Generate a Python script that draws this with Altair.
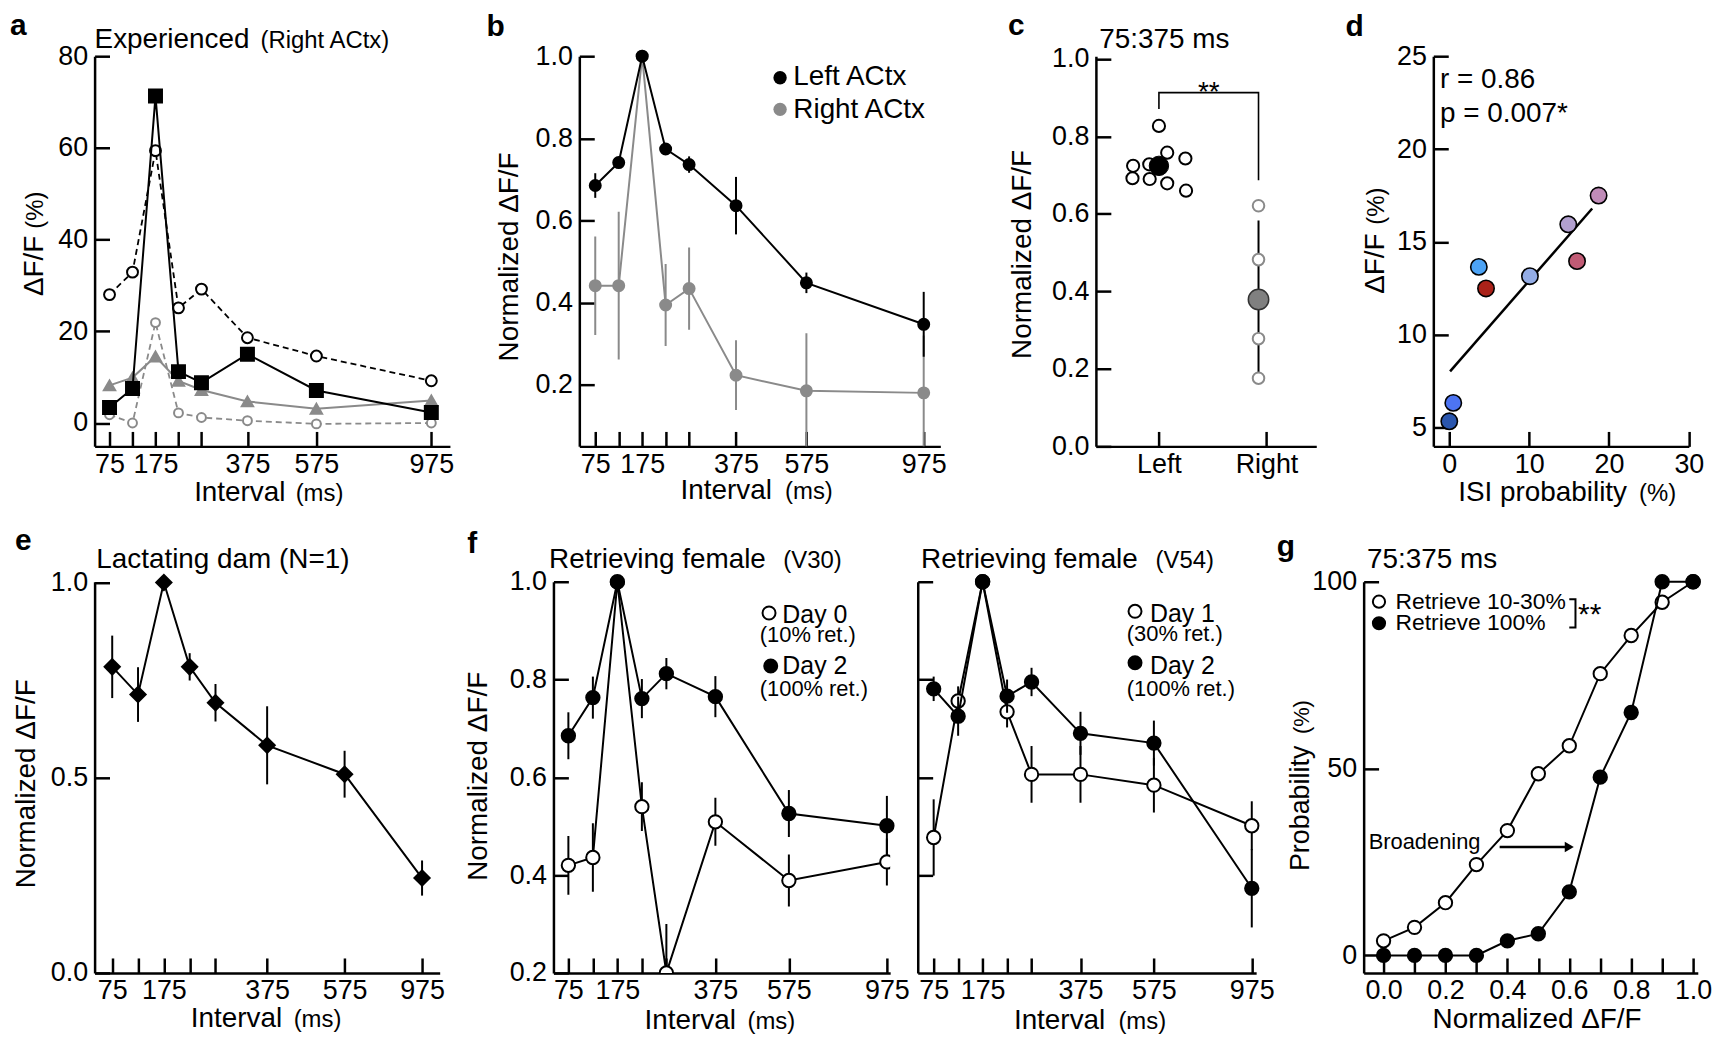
import altair as alt
import pandas as pd

FONT = "Liberation Sans"
GREY = "#8a8a8a"

# ---------------- data ----------------
intervals = [75, 125, 175, 225, 275, 375, 575, 975]
labeled_intervals = [75, 175, 375, 575, 975]

# panel a : Experienced (Right ACtx), dF/F (%)
a_sq_black = [3.4, 7.5, 71.3, 11.2, 8.8, 15.0, 7.1, 2.3]
a_open_black = [28.0, 32.9, 59.4, 25.1, 29.2, 18.6, 14.6, 9.2]
a_tri_grey = [8.2, 9.9, 14.5, 9.2, 7.2, 4.7, 3.1, 4.9]
a_open_grey = [1.8, 0.0, 21.9, 2.2, 1.2, 0.5, -0.2, 0.0]

# panel b : normalized dF/F, left vs right ACtx
b_left = [0.685, 0.741, 1.0, 0.774, 0.736, 0.636, 0.448, 0.347]
b_left_err = [0.03, 0.012, 0.0, 0.01, 0.02, 0.07, 0.025, 0.079]
b_right = [0.441, 0.441, 1.0, 0.394, 0.434, 0.223, 0.185, 0.18]
b_right_err = [0.12, 0.18, 0.0, 0.1, 0.1, 0.085, 0.14, 0.14]

# panel c : 75:375 ms
c_left_x = [0.0, -0.24, -0.09, 0.077, 0.246, -0.246, -0.086, 0.077, 0.252]
c_left_y = [0.827, 0.724, 0.728, 0.758, 0.743, 0.692, 0.690, 0.679, 0.660]
c_left_mean = [0.724]
c_right_x = [0.926, 0.926, 0.926, 0.926]
c_right_y = [0.621, 0.482, 0.278, 0.176]
c_right_mean = [0.379]
c_right_err = [0.204]
c_bracket_x = [0.0, 0.0, 0.926, 0.926]
c_bracket_y = [0.871, 0.913, 0.913, 0.687]

# panel d : ISI probability vs dF/F
d_isi = [0.0, 0.5, 3.7, 4.6, 10.1, 14.9, 16.0, 18.7]
d_dff = [5.35, 6.34, 13.66, 12.5, 13.16, 15.95, 13.97, 17.5]
d_colors = ["#2a56ae", "#4d74f2", "#4ca3f5", "#aa2219", "#94ade6", "#b2a0cf", "#c15b75", "#c08cb8"]
d_fit_x = [0.1, 17.9]
d_fit_y = [8.04, 16.8]

# panel e : lactating dam
e_mean = [0.784, 0.713, 1.0, 0.784, 0.692, 0.583, 0.509, 0.243]
e_err = [0.08, 0.07, 0.0, 0.035, 0.048, 0.1, 0.06, 0.045]

# panel f (V30)
f1_day2 = [0.685, 0.763, 1.0, 0.761, 0.812, 0.765, 0.526, 0.501]
f1_day2_err = [0.048, 0.043, 0.0, 0.04, 0.032, 0.042, 0.048, 0.061]
f1_day0 = [0.42, 0.436, 1.0, 0.540, 0.2, 0.509, 0.389, 0.427]
f1_day0_err = [0.06, 0.07, 0.0, 0.05, 0.1, 0.049, 0.053, 0.048]

# panel f (V54)
f2_day2 = [0.781, 0.725, 1.0, 0.766, 0.795, 0.69, 0.670, 0.373]
f2_day2_err = [0.025, 0.04, 0.0, 0.034, 0.029, 0.044, 0.046, 0.08]
f2_day1 = [0.477, 0.756, 1.0, 0.734, 0.606, 0.606, 0.584, 0.501]
f2_day1_err = [0.078, 0.03, 0.0, 0.032, 0.058, 0.058, 0.056, 0.05]

# panel g : cumulative probability
g_thresholds = [0.0, 0.1, 0.2, 0.3, 0.4, 0.5, 0.6, 0.7, 0.8, 0.9, 1.0]
g_retrieve_low = [3.9, 7.5, 14.1, 24.3, 33.4, 48.6, 56.1, 75.4, 85.6, 94.5, 100.0]
g_retrieve_100 = [0.0, 0.0, 0.0, 0.0, 3.9, 5.8, 17.0, 47.7, 65.0, 100.0, 100.0]
g_bracket_x = [0.600, 0.620, 0.620, 0.600]
g_bracket_y = [95.3, 95.3, 87.75, 87.75]
g_arrow_x = [0.375, 0.60]
g_arrow_y = [29.0, 29.0]

# ---------------- helpers ----------------
ONE = pd.DataFrame({"k": [0]})
TICK = {"expr": "-15"}


def txt(s, x, y, size=28, align="left", angle=0, weight="normal", color="black"):
    return alt.Chart(ONE).mark_text(
        text=s, font=FONT, fontSize=size, align=align, baseline="alphabetic",
        angle=angle, fontWeight=weight, color=color
    ).encode(x=alt.value(x), y=alt.value(y))


def dot(x, y, size, fill, stroke="black", sw=2):
    return alt.Chart(ONE).mark_point(
        shape="circle", filled=True, fill=fill, stroke=stroke, strokeWidth=sw,
        size=size, opacity=1
    ).encode(x=alt.value(x), y=alt.value(y))


def guide(x, y1, y2):
    # invisible vertical rule that fixes the layout bounds of a row
    return alt.Chart(ONE).mark_rule(strokeWidth=1, strokeOpacity=0, opacity=0).encode(
        x=alt.value(x), y=alt.value(y1), y2=alt.value(y2))


def axis(values, labels=True, fmt=None, expr=None, pad=22):
    kw = dict(values=values, title=None, grid=False, domain=True, domainColor="black",
              domainWidth=2.5, ticks=True, tickColor="black", tickWidth=2.5, tickSize=TICK,
              labelPadding=pad, labels=labels, labelFont=FONT, labelFontSize=27,
              labelColor="black", labelOverlap=False, labelFlush=False)
    if fmt:
        kw["format"] = fmt
    if expr:
        kw["labelExpr"] = expr
    return alt.Axis(**kw)


def interval_scale(width, first_px, last_px, n_last):
    u = (last_px - first_px) / n_last
    return alt.Scale(domain=[50, 75, 375, 575, 975, 1000],
                     range=[0, first_px, first_px + 6 * u, first_px + 9 * u, last_px, width],
                     nice=False, zero=False)


INT_EXPR = "indexof([75,175,375,575,975], datum.value) >= 0 ? datum.label : ''"


def series(vals, errs=None):
    d = pd.DataFrame({"interval": intervals, "v": vals})
    if errs is not None:
        d["lo"] = [v - e for v, e in zip(vals, errs)]
        d["hi"] = [v + e for v, e in zip(vals, errs)]
    return d


def trace(df, X, Y, line_color, shape, size, fill, stroke, dash=None, lw=2, psw=2, clip=False):
    lk = dict(color=line_color, strokeWidth=lw, clip=clip)
    if dash:
        lk["strokeDash"] = dash
    line = alt.Chart(df).mark_line(**lk).encode(x=X, y=Y)
    pts = alt.Chart(df).mark_point(shape=shape, size=size, filled=True, fill=fill, stroke=stroke,
                                   strokeWidth=psw, opacity=1, clip=clip).encode(x=X, y=Y)
    return [line, pts]


def errbars(df, X, yscale, yaxis, color="black", w=2, clip=False):
    return alt.Chart(df).mark_rule(color=color, strokeWidth=w, clip=clip).encode(
        x=X, y=alt.Y("lo:Q", scale=yscale, axis=yaxis), y2="hi:Q")


def spacer(w, h):
    return alt.Chart(ONE).mark_point(opacity=0).encode(
        x=alt.value(0), y=alt.value(0)).properties(width=w, height=h)


H1 = 392
H2 = 393

# ---------------- panel a ----------------
Wa = 357
xa = alt.X("interval:Q", scale=interval_scale(Wa, 15, 338.3, 14), axis=axis(intervals, expr=INT_EXPR, pad=20))
ysa = alt.Scale(domain=[-5.1, 80], nice=False, zero=False)
yaxa = axis([0, 20, 40, 60, 80])
ya = alt.Y("v:Q", scale=ysa, axis=yaxa)
pa = alt.layer(
    guide(-86.5, -44.8, 460),
    *trace(series(a_open_grey), xa, ya, GREY, "circle", 80, "white", GREY, dash=[6, 4], lw=1.8),
    *trace(series(a_tri_grey), xa, ya, GREY, "triangle-up", 130, GREY, GREY, lw=2),
    *trace(series(a_open_black), xa, ya, "black", "circle", 120, "white", "black", dash=[6, 4], lw=1.8),
    *trace(series(a_sq_black), xa, ya, "black", "square", 170, "black", "black", lw=2),
    txt("a", -85, -21.6, 30, weight="bold"),
    txt("Experienced", 0, -8.3, 28),
    txt("(Right ACtx)", 166.7, -8.3, 24),
    txt("\u0394F/F", -52, 210.7, 28, align="center", angle=270),
    txt("(%)", -52, 154.7, 24, align="center", angle=270),
    txt("Interval", 100, 446.7, 28),
    txt("(ms)", 202, 446.7, 24),
).properties(width=Wa, height=H1)

# ---------------- panel b ----------------
Wb = 362.7
xb = alt.X("interval:Q", scale=interval_scale(Wb, 16, 346, 14), axis=axis(intervals, expr=INT_EXPR, pad=20))
ysb = alt.Scale(domain=[0.0497, 1.0], nice=False, zero=False)
yaxb = axis([0.2, 0.4, 0.6, 0.8, 1.0], fmt=".1f")
yb = alt.Y("v:Q", scale=ysb, axis=yaxb)
dbr = series(b_right, b_right_err)
dbl = series(b_left, b_left_err)
pb = alt.layer(
    errbars(dbr, xb, ysb, yaxb, color=GREY, clip=True),
    *trace(dbr, xb, yb, GREY, "circle", 170, GREY, GREY, psw=0),
    errbars(dbl, xb, ysb, yaxb, color="black"),
    *trace(dbl, xb, yb, "black", "circle", 170, "black", "black", psw=0),
    dot(201.7, 21.7, 180, "black", stroke="black", sw=0),
    dot(201.7, 53.4, 180, GREY, stroke=GREY, sw=0),
    txt("Left ACtx", 215, 29.4, 28),
    txt("Right ACtx", 215, 61.7, 28),
    txt("b", -93.3, -20, 30, weight="bold"),
    txt("Normalized \u0394F/F", -61.7, 201.7, 28, align="center", angle=270),
    txt("Interval", 101.7, 444.7, 28),
    txt("(ms)", 206.7, 444.7, 24),
).properties(width=Wb, height=H1)

# ---------------- panel c ----------------
Wc = 221.4
xsc = alt.Scale(domain=[-0.586, 1.463], nice=False, zero=False)
xaxc = axis([0, 1], expr="datum.value == 0 ? 'Left' : 'Right'", pad=20)
ysc = alt.Scale(domain=[0, 1.007], nice=False, zero=False)
yaxc = axis([0.0, 0.2, 0.4, 0.6, 0.8, 1.0], fmt=".1f")
xc = alt.X("x:Q", scale=xsc, axis=xaxc)
yc = alt.Y("y:Q", scale=ysc, axis=yaxc)
dcl = pd.DataFrame({"x": c_left_x, "y": c_left_y})
dclm = pd.DataFrame({"x": [0.0], "y": c_left_mean})
dcr = pd.DataFrame({"x": c_right_x, "y": c_right_y})
dcrm = pd.DataFrame({"x": [c_right_x[0]], "y": c_right_mean,
                     "lo": [c_right_mean[0] - c_right_err[0]], "hi": [c_right_mean[0] + c_right_err[0]]})
dcb = pd.DataFrame({"x": c_bracket_x, "y": c_bracket_y, "o": [0, 1, 2, 3]})
pc = alt.layer(
    alt.Chart(dcb).mark_line(color="black", strokeWidth=1.6).encode(x=xc, y=yc, order="o:Q"),
    alt.Chart(dcrm).mark_rule(color="black", strokeWidth=2).encode(
        x=xc, y=alt.Y("lo:Q", scale=ysc, axis=yaxc), y2="hi:Q"),
    alt.Chart(dcr).mark_point(shape="circle", size=135, filled=True, fill="white", stroke=GREY,
                              strokeWidth=2, opacity=1).encode(x=xc, y=yc),
    alt.Chart(dcrm).mark_point(shape="circle", size=420, filled=True, fill="#808080", stroke="#333333",
                               strokeWidth=1.5, opacity=1).encode(x=xc, y=yc),
    alt.Chart(dcl).mark_point(shape="circle", size=150, filled=True, fill="white", stroke="black",
                              strokeWidth=2, opacity=1).encode(x=xc, y=yc),
    alt.Chart(dclm).mark_point(shape="circle", size=380, filled=True, fill="black", stroke="black",
                               strokeWidth=1, opacity=1).encode(x=xc, y=yc),
    txt("c", -88.3, -21.6, 30, weight="bold"),
    txt("75:375 ms", 3.4, -8.3, 28),
    txt("**", 113.4, 44.7, 28, align="center"),
    txt("Normalized \u0394F/F", -65, 199.2, 28, align="center", angle=270),
).properties(width=Wc, height=H1)

# ---------------- panel d ----------------
Wd = 256.7
xsd = alt.Scale(domain=[-2, 30], nice=False, zero=False)
ysd = alt.Scale(domain=[4.0, 25], nice=False, zero=False)
xd = alt.X("isi:Q", scale=xsd, axis=axis([0, 10, 20, 30], pad=20))
yd = alt.Y("dff:Q", scale=ysd, axis=axis([5, 10, 15, 20, 25]))
dd = pd.DataFrame({"isi": d_isi, "dff": d_dff, "col": d_colors})
dfit = pd.DataFrame({"isi": d_fit_x, "dff": d_fit_y})
pd_ = alt.layer(
    alt.Chart(dfit).mark_line(color="black", strokeWidth=2.5).encode(x=xd, y=yd),
    alt.Chart(dd).mark_point(shape="circle", size=270, filled=True, stroke="black", strokeWidth=1.6,
                             opacity=1).encode(x=xd, y=yd, fill=alt.Fill("col:N", scale=None)),
    txt("d", -88.3, -20, 30, weight="bold"),
    txt("r = 0.86", 6.7, 31.7, 28),
    txt("p = 0.007*", 6.7, 65.7, 28),
    txt("\u0394F/F", -50, 208.4, 28, align="center", angle=270),
    txt("(%)", -50, 150.7, 24, align="center", angle=270),
    txt("ISI probability", 25, 446.7, 28),
    txt("(%)", 206.7, 446.7, 24),
).properties(width=Wd, height=H1)

# ---------------- panel e ----------------
We = 346.7
xe = alt.X("interval:Q", scale=interval_scale(We, 17.7, 329, 12), axis=axis(intervals, expr=INT_EXPR, pad=20))
yse = alt.Scale(domain=[0, 1.002], nice=False, zero=False)
yaxe = axis([0.0, 0.5, 1.0], fmt=".1f")
ye = alt.Y("v:Q", scale=yse, axis=yaxe)
de = series(e_mean, e_err)
pe = alt.layer(
    guide(-84.8, -60, 460),
    errbars(de, xe, yse, yaxe),
    *trace(de, xe, ye, "black", "diamond", 330, "black", "black", psw=0),
    txt("e", -80, -32, 30, weight="bold"),
    txt("Lactating dam (N=1)", 1.7, -13.6, 28),
    txt("Normalized \u0394F/F", -60, 203, 28, align="center", angle=270),
    txt("Interval", 96.7, 447.7, 28),
    txt("(ms)", 200, 447.7, 24),
).properties(width=We, height=H2)

# ---------------- panel f (V30) ----------------
Wf1 = 338.3
xf1 = alt.X("interval:Q", scale=interval_scale(Wf1, 15, 335, 13), axis=axis(intervals, expr=INT_EXPR, pad=20))
ysf = alt.Scale(domain=[0.2, 1.0], nice=False, zero=False)
yaxf1 = axis([0.2, 0.4, 0.6, 0.8, 1.0], fmt=".1f")
yf1 = alt.Y("v:Q", scale=ysf, axis=yaxf1)
df10 = series(f1_day0, f1_day0_err)
df12 = series(f1_day2, f1_day2_err)
pf1 = alt.layer(
    errbars(df10, xf1, ysf, yaxf1, clip=True),
    *trace(df10, xf1, yf1, "black", "circle", 180, "white", "black", clip=True),
    errbars(df12, xf1, ysf, yaxf1),
    *trace(df12, xf1, yf1, "black", "circle", 180, "black", "black"),
    txt("f", -86.7, -28.6, 30, weight="bold"),
    txt("Retrieving female", -4.4, -13.6, 28),
    txt("(V30)", 231, -13.6, 24),
    txt("Normalized \u0394F/F", -66.7, 195.5, 28, align="center", angle=270),
    dot(216.6, 31.4, 170, "white"),
    txt("Day 0", 230, 41.4, 25),
    txt("(10% ret.)", 207.3, 60.7, 22),
    dot(218.3, 84.7, 170, "black"),
    txt("Day 2", 230, 93, 25),
    txt("(100% ret.)", 207.3, 114.7, 22),
    txt("Interval", 91.6, 449.7, 28),
    txt("(ms)", 195, 449.7, 24),
).properties(width=Wf1, height=H2)

# ---------------- panel f (V54) ----------------
Wf2 = 340
xf2 = alt.X("interval:Q", scale=interval_scale(Wf2, 16, 335.6, 13), axis=axis(intervals, expr=INT_EXPR, pad=20))
yaxf2 = axis([0.4, 0.6, 0.8, 1.0], labels=False)
yf2 = alt.Y("v:Q", scale=ysf, axis=yaxf2)
df21 = series(f2_day1, f2_day1_err)
df22 = series(f2_day2, f2_day2_err)
pf2 = alt.layer(
    errbars(df21, xf2, ysf, yaxf2),
    *trace(df21, xf2, yf2, "black", "circle", 180, "white", "black"),
    errbars(df22, xf2, ysf, yaxf2),
    *trace(df22, xf2, yf2, "black", "circle", 180, "black", "black"),
    txt("Retrieving female", 3.3, -13.6, 28),
    txt("(V54)", 239, -13.6, 24),
    dot(218.3, 29.7, 170, "white"),
    txt("Day 1", 233.3, 40.7, 25),
    txt("(30% ret.)", 210, 59.7, 22),
    dot(218.3, 81.4, 170, "black"),
    txt("Day 2", 233.3, 92.7, 25),
    txt("(100% ret.)", 210, 114.7, 22),
    txt("Interval", 96.6, 449.7, 28),
    txt("(ms)", 201.6, 449.7, 24),
).properties(width=Wf2, height=H2)

# ---------------- panel g ----------------
Wg = 335.7
xsg = alt.Scale(domain=[-0.0643, 1.0151], nice=False, zero=False)
ysg = alt.Scale(domain=[-4.69, 100], nice=False, zero=False)
xg = alt.X("t:Q", scale=xsg, axis=axis(g_thresholds, pad=20,
                                        expr="abs(round(datum.value*10) % 2) == 0 ? format(datum.value, '.1f') : ''"))
yg = alt.Y("p:Q", scale=ysg, axis=axis([0, 50, 100]))
dgl = pd.DataFrame({"t": g_thresholds, "p": g_retrieve_low})
dgh = pd.DataFrame({"t": g_thresholds, "p": g_retrieve_100})
dgb = pd.DataFrame({"t": g_bracket_x, "p": g_bracket_y, "o": [0, 1, 2, 3]})
dga = pd.DataFrame({"t": g_arrow_x, "p": g_arrow_y})
dgh_head = pd.DataFrame({"t": [g_arrow_x[1]], "p": [g_arrow_y[1]]})
pg = alt.layer(
    *trace(dgl, xg, yg, "black", "circle", 180, "white", "black"),
    *trace(dgh, xg, yg, "black", "circle", 180, "black", "black"),
    alt.Chart(dgb).mark_line(color="black", strokeWidth=2).encode(x=xg, y=yg, order="o:Q"),
    alt.Chart(dga).mark_line(color="black", strokeWidth=2.5).encode(x=xg, y=yg),
    alt.Chart(dgh_head).mark_point(shape="triangle-right", size=110, filled=True, fill="black",
                                   stroke="black", strokeWidth=0, opacity=1).encode(x=xg, y=yg),
    txt("g", -87.3, -26.3, 30, weight="bold"),
    txt("75:375 ms", 3.4, -13.6, 28),
    txt("Probability", -54.6, 227.7, 27, align="center", angle=270),
    txt("(%)", -54.6, 136, 22, align="center", angle=270),
    txt("Normalized \u0394F/F", 174.2, 448, 28, align="center"),
    dot(15.4, 20, 150, "white"),
    txt("Retrieve 10-30%", 32, 27, 23),
    dot(15.4, 41.7, 150, "black"),
    txt("Retrieve 100%", 32, 48.7, 23),
    txt("**", 215.4, 42.2, 30),
    txt("Broadening", 5, 268.7, 22),
).properties(width=Wg, height=H2)

row1 = alt.hconcat(
    pa, spacer(130, H1), pb, spacer(155.6, H1), pc, spacer(116.6, H1), pd_,
    spacing=0, bounds="flush",
)
row2 = alt.hconcat(
    pe, spacer(113.7, H2), pf1, spacer(26.7, H2), pf2, spacer(107.6, H2), pg,
    spacing=0, bounds="flush",
)

chart = alt.vconcat(row1, row2, spacing=8).properties(
    padding={"left": 0, "top": 0, "right": 4, "bottom": 2}, background="white"
).configure_view(stroke=None)

chart.save("out.html", embed_options={"renderer": "svg", "actions": False})
